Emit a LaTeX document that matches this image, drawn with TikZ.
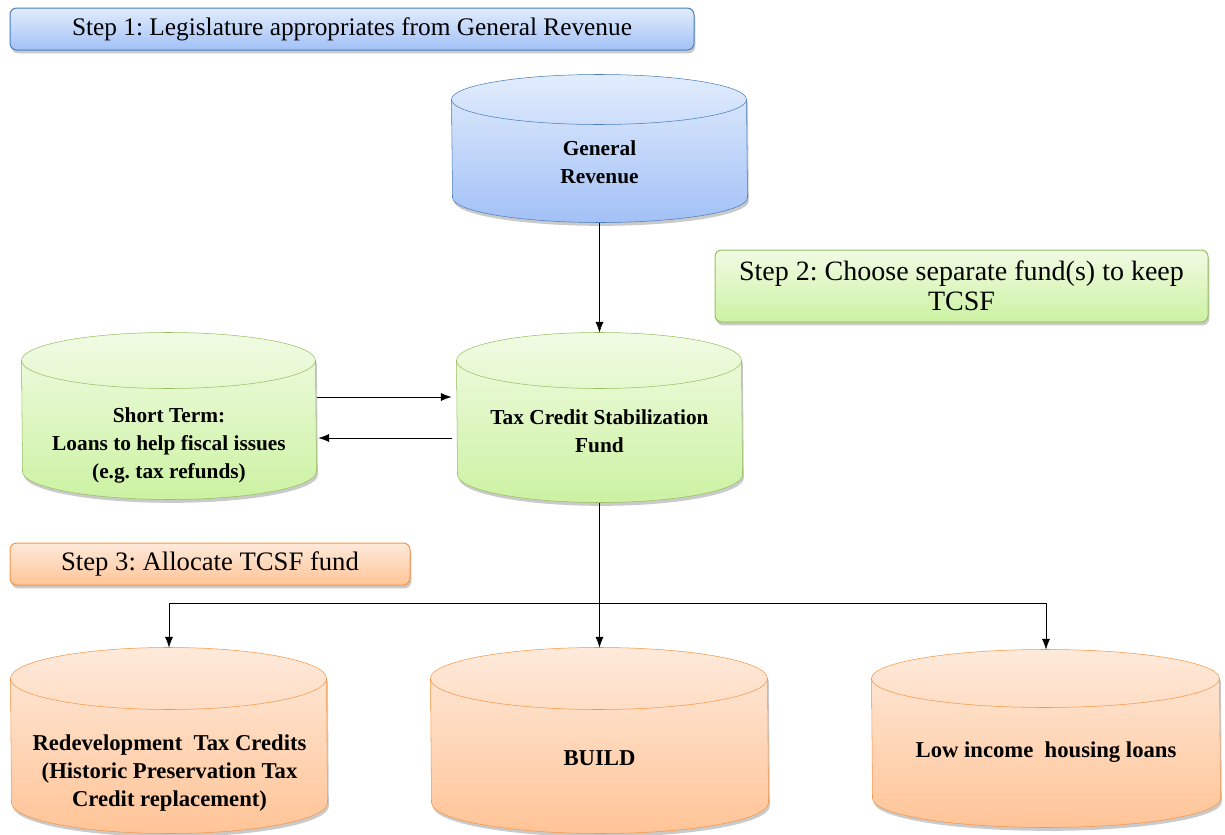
\documentclass[tikz,border=0pt]{standalone}
\usepackage{fontspec}
\setmainfont{Liberation Serif}
\frenchspacing
\usetikzlibrary{arrows.meta,calc,fit,shadows,positioning}
\pgfdeclarelayer{background}
\pgfsetlayers{background,main}

\definecolor{blueTop}{HTML}{E2ECFC}
\definecolor{blueBot}{HTML}{A2C1F7}
\definecolor{blueLine}{HTML}{4A7EBB}
\definecolor{greenTop}{HTML}{F1FBE4}
\definecolor{greenBot}{HTML}{CCF2A2}
\definecolor{greenLine}{HTML}{98C060}
\definecolor{orangeTop}{HTML}{FEEADB}
\definecolor{orangeBot}{HTML}{FFC497}
\definecolor{orangeLine}{HTML}{F79646}

\tikzset{every picture/.style={line width=0.75pt}}
\tikzset{
  drumbox/.style={inner sep=0pt, draw=none},
  drumfill/.style={draw=#1Line, top color=#1Top, bottom color=#1Bot,
    drop shadow={shadow xshift=1pt, shadow yshift=-2.5pt, opacity=0.35, fill=black!60}},
  drumtext/.style={align=center, inner sep=0.75pt, font=\fontsize{16}{21}\selectfont\bfseries},
  lowtext/.style={align=center, inner sep=0.75pt, font=\fontsize{17}{21}\selectfont\bfseries},
  stepbox/.style={rounded corners=5pt, draw=#1Line, top color=#1Top, bottom color=#1Bot,
    drop shadow={shadow xshift=1pt, shadow yshift=-2.5pt, opacity=0.35, fill=black!60},
    align=center, inner sep=0pt},
  flow/.style={-{Latex[length=8pt,width=6pt]}}
}

% drum: node, x radius, y radius, colour
\newcommand{\drum}[4]{%
  \begin{pgfonlayer}{background}
  \path[drumfill=#4] ($(#1.north west)+(0,#3)$) arc[start angle=180,end angle=360,x radius=#2,y radius=#3]
    -- ($(#1.south east)+(0,-#3)$) arc[start angle=0,end angle=180,x radius=#2,y radius=#3] -- cycle;
  \draw[#4Line] ($(#1.north west)+(0,#3)$) arc[start angle=180,end angle=0,x radius=#2,y radius=#3];
  \end{pgfonlayer}}

\begin{document}
\begin{tikzpicture}[x=0.75pt,y=0.75pt,yscale=-1]
\useasboundingbox (0,0) rectangle (1225,835);

% Step labels
\node[stepbox=blue, minimum width=513pt, minimum height=31.5pt, font=\fontsize{19}{22}\selectfont] (step1) at (352,29) {Step 1: Legislature appropriates from General Revenue};
\node[stepbox=green, minimum width=369.75pt, minimum height=54pt, font=\fontsize{21}{22.5}\selectfont] (step2) at (961.5,286) {Step 2: Choose separate fund(s) to keep\\TCSF};
\node[stepbox=orange, minimum width=300pt, minimum height=31.5pt, font=\fontsize{20}{22}\selectfont] (step3) at (210,564) {Step 3: Allocate TCSF fund};

% Drums
\node[drumbox, fit={(452,75) (747,222)}] (gr) {};
\node[drumbox, fit={(457,333) (742,502)}] (tcsf) {};
\node[drumbox, fit={(22,333) (316,499)}] (st) {};
\node[drumbox, fit={(11,648) (327,833)}] (redev) {};
\node[drumbox, fit={(431,648) (768,833)}] (build) {};
\node[drumbox, fit={(872,650) (1220,827)}] (low) {};
\drum{gr}{147.5}{25}{blue}
\drum{tcsf}{142.5}{28}{green}
\drum{st}{147}{28}{green}
\drum{redev}{158}{31}{orange}
\drum{build}{168.5}{31}{orange}
\drum{low}{174}{29}{orange}

% Drum texts
\node[drumtext] (grtext) at (599.5,162) {General\\Revenue};
\node[drumtext] (tcsftext) at (599.5,431.5) {Tax Credit Stabilization\\Fund};
\node[drumtext] (sttext) at (169,445) {Short Term:\\Loans to help fiscal issues\\(e.g. tax refunds)};
\node[lowtext] (redevtext) at (169.5,773) {Redevelopment~ Tax Credits\\(Historic Preservation Tax\\Credit replacement)};
\node[lowtext] (buildtext) at (599.5,758) {BUILD};
\node[lowtext] (lowtext) at (1046,752) {Low income~ housing loans};

% Connectors
\draw[flow] (gr.south) -- (tcsf.north);
\draw[flow] ($(st.east)+(0,-19)$) -- ($(tcsf.west)+(-5,-20.5)$);
\draw[flow] ($(tcsf.west)+(-5,20.5)$) -- ($(st.east)+(2,22)$);
\draw[flow] (tcsf.south) -- (build.north);
\coordinate (fork) at ($(tcsf.south)+(0,101)$);
\draw[flow] (fork) -| (redev.north);
\draw[flow] (fork) -| (low.north);

\end{tikzpicture}
\end{document}
